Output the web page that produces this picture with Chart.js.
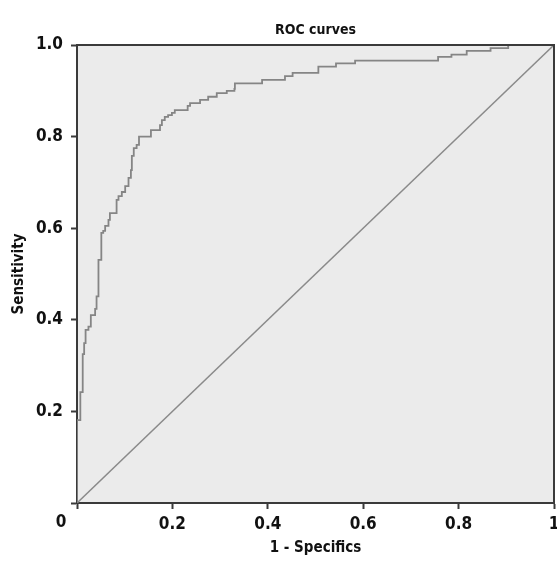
<!DOCTYPE html>
<html>
<head>
<meta charset="utf-8">
<script src="https://cdn.jsdelivr.net/npm/chart.js@4"></script>
<style>
  body { margin: 0; background: #fff; }
  canvas { display: block; }
</style>
</head>
<body>
<canvas id="rocChart" width="557" height="563"></canvas>
<script>
// ROC curve: each point is where the staircase rises (1 - specificity, sensitivity)
const fpr = [0, 0, 0.007, 0.012, 0.015, 0.018, 0.024, 0.029, 0.038, 0.041, 0.045, 0.051, 0.055, 0.059,
  0.066, 0.069, 0.083, 0.087, 0.094, 0.101, 0.108, 0.113, 0.115, 0.119, 0.125, 0.130, 0.155, 0.174,
  0.178, 0.184, 0.191, 0.199, 0.205, 0.232, 0.237, 0.258, 0.275, 0.293, 0.314, 0.330, 0.331, 0.388,
  0.436, 0.452, 0.506, 0.543, 0.583, 0.757, 0.785, 0.817, 0.867, 0.904, 1];
const tpr = [0, 0.181, 0.242, 0.325, 0.349, 0.378, 0.385, 0.410, 0.424, 0.451, 0.531, 0.590, 0.594, 0.605,
  0.618, 0.633, 0.662, 0.670, 0.679, 0.692, 0.710, 0.727, 0.758, 0.775, 0.782, 0.800, 0.814, 0.825,
  0.836, 0.843, 0.847, 0.852, 0.858, 0.867, 0.873, 0.880, 0.887, 0.895, 0.900, 0.904, 0.916, 0.924,
  0.932, 0.939, 0.953, 0.960, 0.966, 0.974, 0.979, 0.987, 0.993, 1.0, 1.0];

// reference line
const refX = [0, 1];
const refY = [0, 1];

const xTickLabels = ['', '0.2', '0.4', '0.6', '0.8', '1'];
const yTickLabels = ['', '0.2', '0.4', '0.6', '0.8', '1.0'];
const originLabel = '0';
const chartTitle = 'ROC curves';

const FONT = "'Liberation Sans Narrow', 'DejaVu Sans Condensed', 'Open Sans', sans-serif";
const AXIS_COLOR = '#3a3a3a';

// plot background, top/right frame, title over the plot and the shared "0" at the corner
const plotFrame = {
    id: 'plotFrame',
    beforeDraw(chart) {
        const a = chart.chartArea;
        const ctx = chart.ctx;
        ctx.save();
        ctx.fillStyle = '#ebebeb';
        ctx.fillRect(a.left, a.top, a.right - a.left, a.bottom - a.top);
        ctx.restore();
    },
    afterDraw(chart) {
        const a = chart.chartArea;
        const ctx = chart.ctx;
        ctx.save();
        ctx.strokeStyle = AXIS_COLOR;
        ctx.lineWidth = 2;
        ctx.beginPath();
        ctx.moveTo(a.left, a.top);
        ctx.lineTo(a.right, a.top);
        ctx.lineTo(a.right, a.bottom);
        ctx.stroke();

        ctx.fillStyle = '#111';
        ctx.textAlign = 'center';
        ctx.textBaseline = 'middle';
        ctx.font = 'bold 17px ' + FONT;
        ctx.fillText(originLabel, a.left - 16, a.bottom + 20);

        ctx.font = 'bold 14px ' + FONT;
        ctx.fillText(chartTitle, (a.left + a.right) / 2, 30);
        ctx.restore();
    }
};

const ctx = document.getElementById('rocChart');
new Chart(ctx, {
    type: 'scatter',
    data: {
        datasets: [
            {
                label: 'ROC',
                data: fpr.map((x, i) => ({ x: x, y: tpr[i] })),
                showLine: true,
                stepped: true,
                borderColor: '#858585',
                borderWidth: 1.8,
                pointRadius: 0
            },
            {
                label: 'Reference',
                data: refX.map((x, i) => ({ x: x, y: refY[i] })),
                showLine: true,
                borderColor: '#8a8a8a',
                borderWidth: 1.5,
                pointRadius: 0
            }
        ]
    },
    options: {
        responsive: false,
        animation: false,
        layout: { padding: { left: 0, right: 3, top: 45, bottom: 0 } },
        plugins: {
            legend: { display: false },
            tooltip: { enabled: false },
            title: { display: false }
        },
        scales: {
            x: {
                type: 'linear',
                min: 0,
                max: 1,
                afterFit: s => { s.height = 60; s.paddingLeft = 0; s.paddingRight = 0; },
                ticks: {
                    stepSize: 0.2,
                    color: '#111',
                    padding: 5,
                    maxRotation: 0,
                    font: { family: FONT, size: 17, weight: 'bold' },
                    callback: (v, i) => xTickLabels[i]
                },
                grid: { drawOnChartArea: false, drawTicks: true, tickLength: 6, tickWidth: 2, color: AXIS_COLOR },
                border: { display: true, color: AXIS_COLOR, width: 2 },
                title: {
                    display: true,
                    text: '1 - Specifics',
                    color: '#111',
                    font: { family: FONT, size: 15, weight: 'bold', lineHeight: 1.25 },
                    padding: { top: 0, bottom: 6 }
                }
            },
            y: {
                type: 'linear',
                min: 0,
                max: 1,
                afterFit: s => { s.width = 77; s.paddingTop = 0; s.paddingBottom = 0; },
                ticks: {
                    stepSize: 0.2,
                    color: '#111',
                    padding: 8,
                    font: { family: FONT, size: 17, weight: 'bold' },
                    callback: (v, i) => yTickLabels[i]
                },
                grid: { drawOnChartArea: false, drawTicks: true, tickLength: 6, tickWidth: 2, color: AXIS_COLOR },
                border: { display: true, color: AXIS_COLOR, width: 2 },
                title: {
                    display: true,
                    text: 'Sensitivity',
                    color: '#111',
                    font: { family: FONT, size: 15, weight: 'bold', lineHeight: 1.25 },
                    padding: { top: 10, bottom: 0 }
                }
            }
        }
    },
    plugins: [plotFrame]
});
</script>
</body>
</html>
